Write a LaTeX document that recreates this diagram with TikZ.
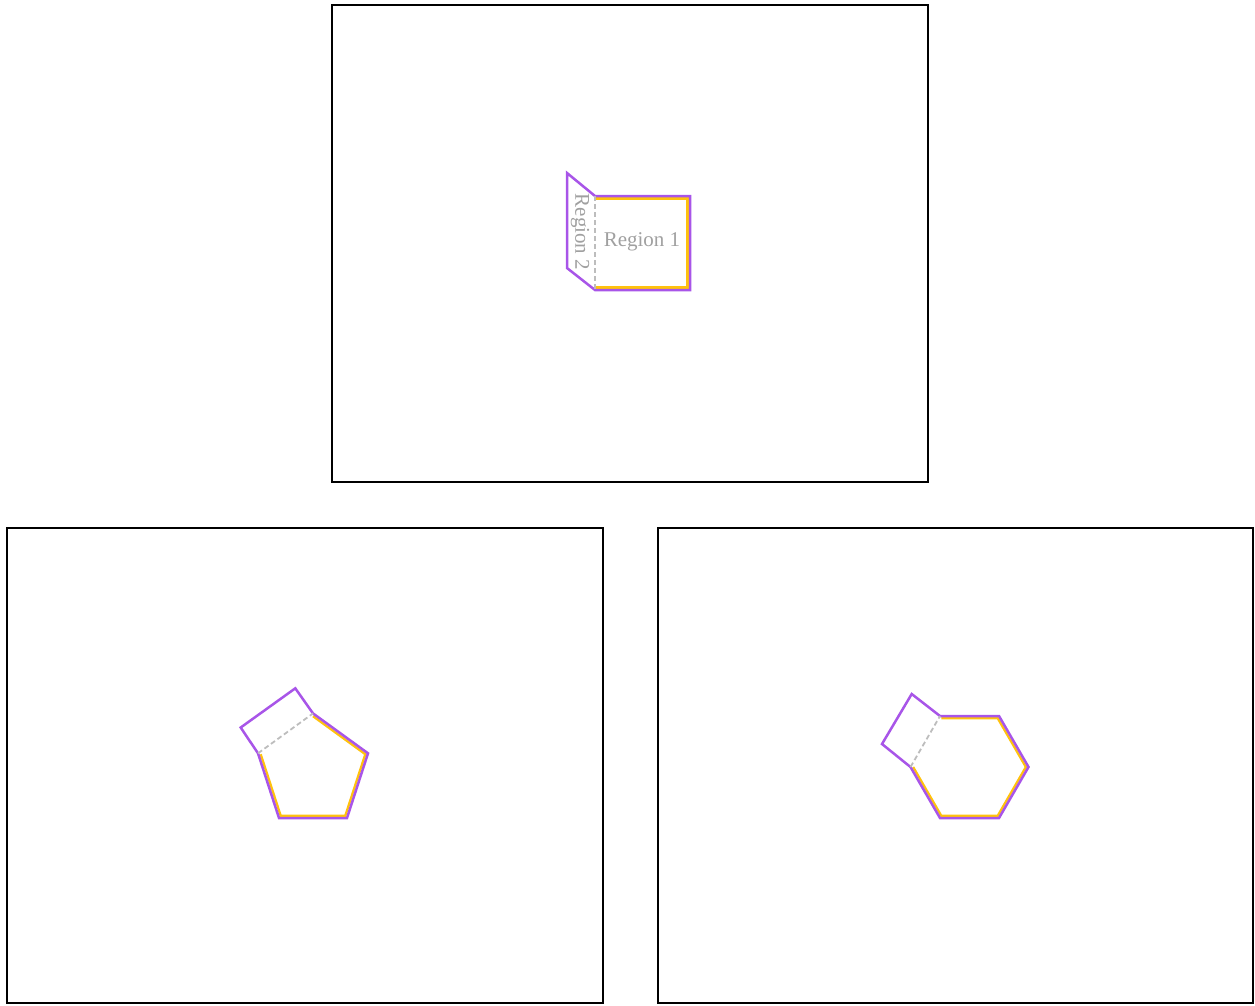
\documentclass[tikz,border=0pt]{standalone}
\usepackage{fontspec}
\setmainfont{Liberation Serif}
\definecolor{purp}{HTML}{A855E8}
\definecolor{gold}{HTML}{FFC20E}
\definecolor{dashgray}{HTML}{BDBDBD}
\definecolor{txtgray}{HTML}{A0A0A0}
\begin{document}
\begin{tikzpicture}[x=1pt,y=-1pt,
  frame/.style={draw=black,line width=2.4pt},
  outline/.style={draw=purp,line width=2.5pt,line join=miter},
  inner/.style={draw=gold,line width=2.3pt,line join=miter},
  fold/.style={draw=dashgray,line width=1.8pt,dash pattern=on 5pt off 3pt},
  lbl/.style={text=txtgray,font=\fontsize{21}{25}\selectfont,inner sep=0pt}]
\useasboundingbox (0,0) rectangle (1255,1005);
% frames
\draw[frame] (332,5) rectangle (928,482);
\draw[frame] (7,528) rectangle (603,1003);
\draw[frame] (658,528) rectangle (1253,1003);
% top: square + region 2
\coordinate (t1) at (595,196);
\coordinate (t2) at (567,173);
\coordinate (t3) at (567,268);
\coordinate (t4) at (595,290);
\coordinate (t5) at (690,290);
\coordinate (t6) at (690,196);
\draw[inner] (595,198.6) -- (687.4,198.6) -- (687.4,287.4) -- (595,287.4);
\draw[outline] (t1) -- (t2) -- (t3) -- (t4) -- (t5) -- (t6) -- cycle;
\draw[fold] (t1) -- (t4);
\node[lbl] (r1) at (642,242) {Region 1};
\node[lbl,rotate=-90] (r2) at (580,232) {Region 2};
% pentagon
\coordinate (pa) at (258,753.3);
\coordinate (pb) at (279,818);
\coordinate (pc) at (347,818);
\coordinate (pd) at (368,753.3);
\coordinate (pe) at (313,713.4);
\coordinate (pf) at (295.3,688.3);
\coordinate (pg) at (240.7,727.5);
\draw[inner] (260.7,754.2) -- (280.7,815.7) -- (345.3,815.7) -- (365.3,754.2) -- (313,716.2);
\draw[outline] (pa) -- (pb) -- (pc) -- (pd) -- (pe) -- (pf) -- (pg) -- cycle;
\draw[fold] (pa) -- (pe);
% hexagon
\coordinate (ha) at (940,716);
\coordinate (hb) at (999,716);
\coordinate (hc) at (1028.5,767);
\coordinate (hd) at (999,818);
\coordinate (he) at (940,818);
\coordinate (hf) at (910.5,767);
\coordinate (hg) at (882,744);
\coordinate (hh) at (911.7,694);
\draw[inner] (941.3,718.2) -- (997.7,718.2) -- (1025.85,767) -- (997.7,815.8) -- (941.3,815.8) -- (913.15,767);
\draw[outline] (ha) -- (hb) -- (hc) -- (hd) -- (he) -- (hf) -- (hg) -- (hh) -- cycle;
\draw[fold] (hf) -- (ha);
\end{tikzpicture}
\end{document}
